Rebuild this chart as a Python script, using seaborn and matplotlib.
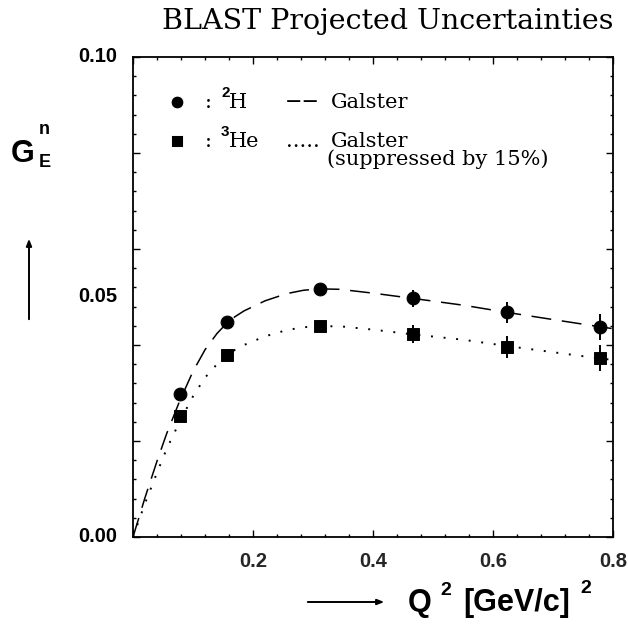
import numpy as np
import pandas as pd
import matplotlib
matplotlib.use("Agg")
import matplotlib.pyplot as plt
import seaborn as sns
from matplotlib.ticker import MultipleLocator

# ============================================================
# Data
# ============================================================

q2_points = [0.078, 0.156, 0.311, 0.467, 0.623, 0.778]

gen_deut = [0.0298, 0.0447, 0.0517, 0.0497, 0.0468, 0.0438]
err_deut = [0.0006, 0.0007, 0.0010, 0.0018, 0.0022, 0.0027]

gen_he3 = [0.0253, 0.0379, 0.0439, 0.0423, 0.0396, 0.0373]
err_he3 = [0.0006, 0.0007, 0.0010, 0.0019, 0.0023, 0.0028]

q2_curve = [0.0, 0.02, 0.04, 0.056, 0.078, 0.10, 0.12, 0.14, 0.156, 0.17,
            0.185, 0.22, 0.256, 0.284, 0.311, 0.345, 0.40, 0.467, 0.55,
            0.623, 0.70, 0.778, 0.80]
galster = [0.0, 0.0082, 0.0158, 0.0215, 0.0284, 0.0345, 0.0390, 0.0424,
           0.0445, 0.0459, 0.0471, 0.0492, 0.0507, 0.0514, 0.0517, 0.0516,
           0.0508, 0.0497, 0.0483, 0.0468, 0.0453, 0.0438, 0.0434]
galster_supp = [0.0, 0.0070, 0.0134, 0.0183, 0.0241, 0.0293, 0.0332, 0.0360,
                0.0378, 0.0390, 0.0400, 0.0418, 0.0431, 0.0437, 0.0439, 0.0439,
                0.0432, 0.0422, 0.0411, 0.0398, 0.0385, 0.0372, 0.0369]

x_ticklabels = ["", "0.2", "0.4", "0.6", "0.8"]
y_ticklabels = ["0.00", "0.05", "0.10"]
y_label_pos = [0.0, 0.05, 0.10]

curves = pd.DataFrame({"q2": q2_curve, "galster": galster, "supp": galster_supp})

# ============================================================
# Figure
# ============================================================

sns.set_theme(style="ticks")
plt.rcParams["font.family"] = ["DejaVu Serif"]
W, H = 628, 635
fig = plt.figure(figsize=(W / 100, H / 100), dpi=100)
fig.patch.set_facecolor("white")
ax = fig.add_axes([133 / W, 1 - 537 / H, 480 / W, 480 / H])
ax.set_facecolor("white")


def px(x, y):
    return x / W, 1 - y / H


sans_bold = dict(family="Liberation Sans", weight="bold", color="black")
serif = dict(family="DejaVu Serif", color="black")

# curves
sns.lineplot(data=curves, x="q2", y="galster", ax=ax, color="black",
             lw=1.1, linestyle=(0, (13, 7)), estimator=None, sort=False)
sns.lineplot(data=curves, x="q2", y="supp", ax=ax, color="black",
             lw=1.4, linestyle=(0, (1, 5.5)), estimator=None, sort=False)

# data points with error bars
ax.errorbar(q2_points, gen_deut, yerr=err_deut, fmt="none", ecolor="black", elinewidth=1.4)
ax.errorbar(q2_points, gen_he3, yerr=err_he3, fmt="none", ecolor="black", elinewidth=1.4)
sns.scatterplot(x=q2_points, y=gen_deut, ax=ax, marker="o", s=85,
                color="black", edgecolor="black", zorder=3)
sns.scatterplot(x=q2_points, y=gen_he3, ax=ax, marker="s", s=70,
                color="black", edgecolor="black", zorder=3)

# legend (drawn by hand, as in the original)
leg_x = 0.073
ax.errorbar([leg_x], [0.0907], yerr=[0.0006], fmt="none", ecolor="black", elinewidth=1.4)
ax.errorbar([leg_x], [0.0824], yerr=[0.0006], fmt="none", ecolor="black", elinewidth=1.4)
sns.scatterplot(x=[leg_x], y=[0.0907], ax=ax, marker="o", s=85, color="black", zorder=3)
sns.scatterplot(x=[leg_x], y=[0.0824], ax=ax, marker="s", s=70, color="black", zorder=3)

fs_leg = 15
fig.text(*px(205, 108), ":", fontsize=fs_leg, va="baseline", **serif)
fig.text(*px(221, 97), "2", fontsize=11, va="baseline", **sans_bold)
fig.text(*px(229, 108), "H", fontsize=fs_leg, va="baseline", **serif)
fig.text(*px(285, 108), "−−", fontsize=fs_leg, va="baseline", **serif)
fig.text(*px(331, 108), "Galster", fontsize=fs_leg, va="baseline", **serif)

fig.text(*px(205, 147), ":", fontsize=fs_leg, va="baseline", **serif)
fig.text(*px(221, 136), "3", fontsize=11, va="baseline", **sans_bold)
fig.text(*px(229, 147), "He", fontsize=fs_leg, va="baseline", **serif)
fig.text(*px(286, 147), ".....", fontsize=fs_leg, va="baseline", **serif)
fig.text(*px(331, 147), "Galster", fontsize=fs_leg, va="baseline", **serif)
fig.text(*px(327, 165), "(suppressed by 15%)", fontsize=fs_leg, va="baseline", **serif)

# axes
ax.set_xlim(0, 0.8)
ax.set_ylim(0, 0.10)
ax.xaxis.set_major_locator(MultipleLocator(0.2))
ax.xaxis.set_minor_locator(MultipleLocator(0.04))
ax.set_xticks([0, 0.2, 0.4, 0.6, 0.8], x_ticklabels)
ax.yaxis.set_major_locator(MultipleLocator(0.02))
ax.yaxis.set_minor_locator(MultipleLocator(0.004))
ax.set_yticklabels([])
ax.tick_params(which="both", direction="in", top=True, right=True,
               color="black", width=1.0)
ax.tick_params(which="major", length=5)
ax.tick_params(which="minor", length=2.5)
ax.tick_params(axis="x", which="major", pad=11, labelsize=14.5)
for lab in ax.get_xticklabels():
    lab.set_fontfamily("Liberation Sans")
    lab.set_fontweight("bold")
for s in ax.spines.values():
    s.set_linewidth(1.3)
    s.set_color("black")
ax.set_xlabel("")
ax.set_ylabel("")

for yv, lab in zip(y_label_pos, y_ticklabels):
    ax.text(-0.032, yv, lab, transform=ax.get_yaxis_transform(), ha="right",
            va="center", fontsize=14.5, **sans_bold)

# title
fig.text(*px(614, 29), "BLAST Projected Uncertainties", fontsize=20.5,
         ha="right", va="baseline", **serif)

# y label G_E^n with arrow
fig.text(*px(11, 162), "G", fontsize=22, va="baseline", **sans_bold)
fig.text(*px(39, 134), "n", fontsize=13, va="baseline", **sans_bold)
fig.text(*px(39, 167), "E", fontsize=13, va="baseline", **sans_bold)
fig.add_artist(matplotlib.patches.FancyArrowPatch(
    px(29, 322), px(29, 236), transform=fig.transFigure,
    arrowstyle="-|>,head_length=4,head_width=1.6", lw=1.4, color="black"))

# x label Q^2 [GeV/c]^2 with arrow
fig.add_artist(matplotlib.patches.FancyArrowPatch(
    px(305, 602), px(387, 602), transform=fig.transFigure,
    arrowstyle="-|>,head_length=4,head_width=1.6", lw=1.4, color="black"))
fig.text(*px(408, 611), "Q", fontsize=22, va="baseline", **sans_bold)
fig.text(*px(440, 595), "2", fontsize=14, va="baseline", **sans_bold)
fig.text(*px(463, 611), "[GeV/c]", fontsize=22, va="baseline", **sans_bold)
fig.text(*px(580, 593), "2", fontsize=14, va="baseline", **sans_bold)

fig.savefig("out.png", dpi=100, facecolor="white")
